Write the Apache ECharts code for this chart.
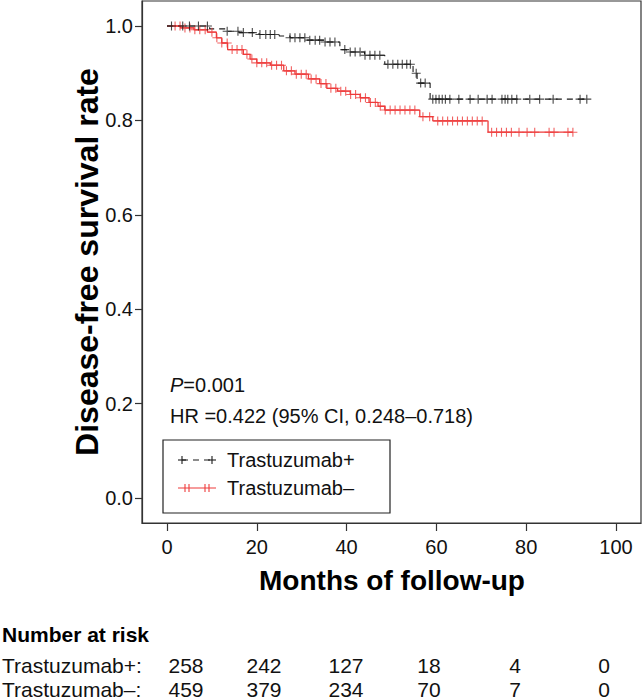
<!DOCTYPE html>
<html>
<head>
<meta charset="utf-8">
<script src="https://cdn.jsdelivr.net/npm/echarts@6/dist/echarts.min.js"></script>
<style>
html,body{margin:0;padding:0;background:#fff;}
#chart{width:642px;height:700px;}
</style>
</head>
<body>
<div id="chart"></div>
<script>
// ---- data ----
var groupNames = ['Trastuzumab+', 'Trastuzumab\u2013'];
var xTicks = [0, 20, 40, 60, 80, 100];
var yTicks = [0, 0.2, 0.4, 0.6, 0.8, 1.0];

// Kaplan-Meier steps (time in months, survival after that time)
var posTimes = [0, 9.5, 13, 16, 20.5, 25, 27.4, 31, 35, 38.5, 40, 44, 48.5, 54.8, 55.7, 58.6, 93.5];
var posSurv  = [1.0, 0.994, 0.989, 0.986, 0.982, 0.979, 0.975, 0.970, 0.966, 0.950, 0.945, 0.938, 0.919, 0.900, 0.879, 0.845, 0.845];

var negTimes = [0, 3, 6, 9, 11, 12.2, 13.5, 17, 18.5, 20, 23, 26, 28.5, 31.5, 34, 35.6, 38, 40.8, 43, 45, 47, 48.5, 56.3, 59.2, 71.5, 90.4];
var negSurv  = [1.0, 0.996, 0.992, 0.987, 0.975, 0.964, 0.950, 0.940, 0.930, 0.922, 0.917, 0.905, 0.898, 0.888, 0.878, 0.868, 0.862, 0.855, 0.848, 0.838, 0.830, 0.822, 0.808, 0.799, 0.775, 0.775];

// censoring times
var posCensor = [1, 3.5, 5, 7, 9, 13.4, 15.8, 17, 19, 20.7, 22, 23, 24, 27.4, 28.5, 29.6, 30.7, 31.8, 33, 34, 35.2, 36.3, 37.4, 39.6, 40.8, 41.9, 43, 44.1, 45.2, 46.3, 47.4, 49.2, 50.3, 51.4, 52.4, 53.4, 54.2, 55.5, 56.5, 57.5, 59.2, 59.9, 60.6, 61.3, 62, 63, 65, 67.5, 69.3, 71.3, 72.4, 74.6, 75.3, 75.9, 76.8, 77.9, 80.8, 83, 86, 92, 93.5];
var negCensor = [1.8, 2.9, 4.0, 5.1, 6.2, 7.3, 8.5, 10.0, 11.1, 12.2, 13.4, 14.5, 15.6, 16.7, 17.8, 18.9, 20.0, 21.1, 22.2, 23.3, 24.4, 25.5, 26.6, 27.7, 28.8, 29.9, 31.0, 32.1, 33.2, 34.3, 35.4, 36.5, 37.6, 38.7, 39.8, 40.9, 42.0, 43.1, 44.2, 45.3, 46.4, 47.5, 48.6, 49.7, 50.8, 51.9, 53.0, 54.1, 55.2, 57.0, 58.5, 60.3, 61.4, 62.5, 63.6, 64.7, 65.8, 66.9, 68.0, 69.1, 70.2, 72.3, 73.4, 74.5, 75.6, 76.7, 78.4, 80.2, 81.9, 85.1, 86.2, 89.3, 90.4];

var riskTitle = 'Number at risk';
var riskPos = [258, 242, 127, 18, 4, 0];
var riskNeg = [459, 379, 234, 70, 7, 0];
var pText = '=0.001';
var hrText = 'HR =0.422 (95% CI, 0.248\u20130.718)';
var xTitle = 'Months of follow-up';
var yTitle = 'Disease-free survival rate';

// ---- build ----
function pairs(ts, ss) { return ts.map(function (t, i) { return [t, ss[i]]; }); }
function survAt(ts, ss, t) {
  var s = ss[0];
  for (var i = 0; i < ts.length; i++) { if (ts[i] <= t) s = ss[i]; }
  return s;
}
function censorPts(cs, ts, ss) { return cs.map(function (t) { return [t, survAt(ts, ss, t)]; }); }

var BLACK = '#1a1a1a', RED = '#ee3b3b';
var FONT = '"Liberation Sans", Arial, sans-serif';
var plusPath = 'path://M0,5L10,5M5,0L5,10';

var chart = echarts.init(document.getElementById('chart'), null, { renderer: 'svg' });

function seg(x1, y1, x2, y2, color, dash) {
  var st = { stroke: color, lineWidth: 1.1 };
  if (dash) st.lineDash = dash;
  return { type: 'line', shape: { x1: x1, y1: y1, x2: x2, y2: y2 }, style: st, z: 10 };
}

var riskCols = [186, 264, 346, 429, 515, 604];
var graphics = [
  { type: 'text', x: 87, y: 262, rotation: Math.PI / 2,
    style: { text: yTitle, font: 'bold 32px ' + FONT, fill: '#000', textAlign: 'center', textVerticalAlign: 'middle' } },
  { type: 'text', x: 392, y: 580,
    style: { text: xTitle, font: 'bold 28px ' + FONT, fill: '#000', textAlign: 'center', textVerticalAlign: 'middle' } },
  { type: 'text', x: 170, y: 385,
    style: { rich: { i: { font: 'italic 20px ' + FONT, fill: '#111' }, n: { font: '20px ' + FONT, fill: '#111' } },
      text: '{i|P}{n|' + pText + '}', textVerticalAlign: 'middle' } },
  { type: 'text', x: 170, y: 416,
    style: { text: hrText, font: '20px ' + FONT, fill: '#111', textVerticalAlign: 'middle' } },
  { type: 'rect', shape: { x: 163, y: 440, width: 227, height: 73 },
    style: { fill: '#fff', stroke: '#222', lineWidth: 1.2 }, z: 9 },
  { type: 'text', x: 227, y: 460, z: 10, style: { text: groupNames[0], font: '20px ' + FONT, fill: '#111', textVerticalAlign: 'middle' } },
  { type: 'text', x: 227, y: 488, z: 10, style: { text: groupNames[1], font: '20px ' + FONT, fill: '#111', textVerticalAlign: 'middle' } },
  seg(182, 460, 212, 460, BLACK, [6, 5]),
  seg(178, 460, 186, 460, BLACK), seg(182, 456, 182, 464, BLACK),
  seg(208, 460, 216, 460, BLACK), seg(212, 456, 212, 464, BLACK),
  seg(178, 488, 216, 488, RED),
  seg(185, 484, 185, 492, RED), seg(189, 484, 189, 492, RED),
  seg(205, 484, 205, 492, RED), seg(209, 484, 209, 492, RED),
  { type: 'text', x: 2, y: 634, style: { text: riskTitle, font: 'bold 21px ' + FONT, fill: '#000', textVerticalAlign: 'middle' } },
  { type: 'text', x: 2, y: 665, style: { text: groupNames[0] + ':', font: '21px ' + FONT, fill: '#111', textVerticalAlign: 'middle' } },
  { type: 'text', x: 2, y: 689, style: { text: groupNames[1] + ':', font: '21px ' + FONT, fill: '#111', textVerticalAlign: 'middle' } }
];
riskCols.forEach(function (cx, i) {
  graphics.push({ type: 'text', x: cx, y: 665, style: { text: String(riskPos[i]), font: '21px ' + FONT, fill: '#111', textAlign: 'center', textVerticalAlign: 'middle' } });
  graphics.push({ type: 'text', x: cx, y: 689, style: { text: String(riskNeg[i]), font: '21px ' + FONT, fill: '#111', textAlign: 'center', textVerticalAlign: 'middle' } });
});

var option = {
  animation: false,
  backgroundColor: '#fff',
  grid: { left: 142, right: 1, top: 1, bottom: 177, show: true, borderColor: '#333', borderWidth: 1.2, containLabel: false },
  xAxis: {
    type: 'value', min: -5.57, max: 105.57,
    axisLine: { show: true, onZero: false, lineStyle: { color: '#333', width: 1.2 } },
    axisTick: { show: true, length: 8, customValues: xTicks, lineStyle: { color: '#333', width: 1.2 } },
    axisLabel: { customValues: xTicks, margin: 14, fontSize: 20, fontFamily: FONT, color: '#111' },
    splitLine: { show: false }
  },
  yAxis: {
    type: 'value', min: -0.053, max: 1.053,
    axisLine: { show: true, onZero: false, lineStyle: { color: '#333', width: 1.2 } },
    axisTick: { show: true, length: 7, customValues: yTicks, lineStyle: { color: '#333', width: 1.2 } },
    axisLabel: { customValues: yTicks, margin: 9, fontSize: 20, fontFamily: FONT, color: '#111',
      formatter: function (v) { return v.toFixed(1); } },
    splitLine: { show: false }
  },
  series: [
    { type: 'line', step: 'end', data: pairs(posTimes, posSurv), showSymbol: false, symbol: 'none',
      lineStyle: { color: BLACK, width: 1.1, type: [6, 5] }, z: 3 },
    { type: 'line', step: 'end', data: pairs(negTimes, negSurv), showSymbol: false, symbol: 'none',
      lineStyle: { color: RED, width: 1.3 }, z: 2 },
    { type: 'scatter', data: censorPts(posCensor, posTimes, posSurv), symbol: plusPath, symbolSize: 9,
      itemStyle: { color: 'rgba(0,0,0,0)', borderColor: BLACK, borderWidth: 1.1 }, z: 4 },
    { type: 'scatter', data: censorPts(negCensor, negTimes, negSurv), symbol: plusPath, symbolSize: 9,
      itemStyle: { color: 'rgba(0,0,0,0)', borderColor: RED, borderWidth: 1.1 }, z: 3 }
  ],
  graphic: graphics
};
chart.setOption(option);
</script>
</body>
</html>
